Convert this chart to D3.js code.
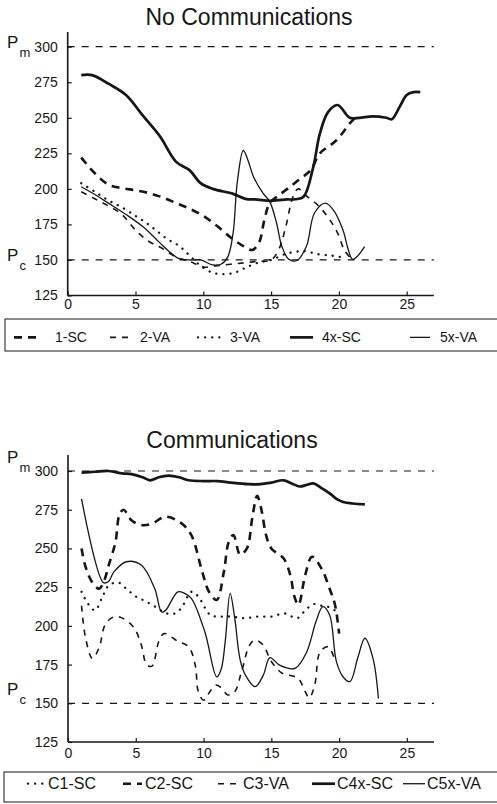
<!DOCTYPE html>
<html>
<head>
<meta charset="utf-8">
<script src="https://cdn.jsdelivr.net/npm/d3@7"></script>
<style>
  html, body { margin: 0; padding: 0; background: #fff; }
  svg { display: block; font-family: "Liberation Sans", Arial, Helvetica, sans-serif; }
</style>
</head>
<body>
<script>
'use strict';

// ---- data ----
const xTicks = [0, 5, 10, 15, 20, 25];
const yTicks = [125, 150, 175, 200, 225, 250, 275, 300];
const refLevels = [300, 150];

// No Communications
const noCommLabels = ['1-SC', '2-VA', '3-VA', '4x-SC', '5x-VA'];
const sc1 = [[1,222],[2,211],[3,203],[4,200.5],[5,199],[6,197],[7,194],[8,190],[9,186],[10,181],[11,174],[12,166],[13,159.5],[13.6,157],[14.1,162],[14.5,178],[14.9,190],[15.5,195],[16.2,200],[17,206],[17.9,213],[18.6,225],[19.8,234],[20.8,246],[21.2,250]];
const va2 = [[1,198],[2,193],[3,188],[4,182],[5,171],[6,163],[7,158],[8,152],[9,149],[10,145],[11,146],[12,147],[13,148],[14,149],[15,150],[15.6,158],[16.1,174],[16.6,194],[17,200],[17.6,195],[18.4,189],[19.2,180],[19.9,169],[20.4,157],[20.9,151]];
const va3 = [[1,204],[2,198],[3,192],[4,187],[5,181],[5.8,176],[6.5,171],[7.3,165],[8.2,160],[9,153],[9.8,146],[10.7,141],[11.5,140],[12.3,141],[13,144],[14,148],[15,150],[16,154],[17,156],[17.6,156],[18.5,154],[19.5,153],[20.2,152]];
const sc4 = [[1,280],[1.8,280],[3,274],[4.3,266],[5.5,252],[6.8,237],[8,219],[9,213],[9.8,204],[10.7,200],[12.2,196.5],[13.1,193],[14,192.5],[14.9,191.5],[16,192.5],[16.8,192.7],[17.4,194.5],[18.1,215],[18.6,239],[19.2,254],[19.9,259],[20.8,250],[21.5,250],[22.5,251],[23.5,250],[23.9,249],[24.5,258],[25,266],[25.5,268],[26,268]];
const va5 = [[1,201.5],[2,196],[3,190],[4.3,182],[5.6,173],[6.8,162],[7.6,155],[8.2,151],[9,150],[9.8,150],[10.7,146.5],[11.3,147],[11.8,152],[12.2,169],[12.5,204],[12.95,227],[13.3,220],[13.7,208.6],[14.4,197],[14.9,191],[15.4,176],[15.8,159.4],[16.3,150.5],[16.9,149.6],[17.6,159.4],[18.2,183],[19,190],[19.6,185],[20.3,171],[20.7,157],[21,150.5],[21.3,152],[21.9,159.4]];

// Communications
const commLabels = ['C1-SC', 'C2-SC', 'C3-VA', 'C4x-SC', 'C5x-VA'];
const c1sc = [[1,222],[1.5,214],[2,210],[2.5,218],[3,226],[3.7,228],[4.3,224],[5,219],[5.7,216],[6.5,212],[7.3,208],[7.9,208],[8.4,212],[9.1,222],[9.6,219],[10.5,207],[11.2,206],[12,206],[13,205],[14,206],[15,206],[16,208],[16.9,205],[17.5,210],[18.1,214],[18.7,213],[19.3,212],[20,208]];
const c2sc = [[1,250],[1.3,238],[1.8,228],[2.3,224],[2.7,230],[3,239],[3.5,254],[3.8,272],[4.1,275],[4.7,268],[5.5,265],[6.2,266],[7.2,270.5],[8.4,266],[9.1,258.6],[9.9,235],[10.4,222],[10.97,216.7],[11.5,235],[11.85,254],[12.2,258.6],[12.7,246],[13.2,250],[13.6,270],[13.95,284],[14.3,273.7],[14.6,259],[15,250],[15.9,243.6],[16.4,232.8],[16.7,219],[17,213.5],[17.5,232.8],[18,244.6],[18.7,237],[19.3,224],[19.7,213.5],[20,195]];
const c3va = [[1,213],[1.3,192],[1.8,179],[2.3,186],[2.7,200],[3.2,205],[3.7,206],[4.3,203.5],[4.9,198.4],[5.4,188],[5.8,175],[6.2,174],[6.7,190],[7.1,195],[8.1,190],[8.9,186.5],[9.4,174],[9.6,158],[10,152],[10.5,158],[10.9,161.8],[11.3,160],[11.8,155.4],[12.3,157.5],[12.8,170.4],[13.4,187.6],[13.8,190.8],[14.4,187.6],[15,177],[15.8,169.4],[16.4,168],[17,166],[17.5,157.5],[17.8,153.5],[18.2,161.8],[18.6,183.3],[19.2,186.5],[19.6,180]];
const c4sc = [[1,299],[2,299.5],[3,300],[4,298.5],[4.7,298],[5.5,296],[6.05,294],[6.7,296],[7.4,297],[8.2,296],[8.9,294],[10,293.5],[11,293.5],[12,292.5],[13.3,291.5],[14.2,291.5],[15,292.5],[15.9,294],[16.5,292],[17.1,290],[17.6,291],[18.1,292],[18.7,289],[19.3,285.6],[19.8,282],[20.3,280],[21,279],[21.9,278.5]];
const c5va = [[1,282],[2.6,228],[2.97,228.5],[3.4,235],[4.3,241.4],[5.4,239.3],[6.4,224],[6.9,209],[7.2,210],[8.1,222],[8.6,221],[9.1,217.8],[10.1,196],[10.97,167],[11.3,172],[11.6,190],[11.96,221],[12.3,205],[12.7,178],[13.1,168],[13.8,160.7],[14.4,168],[14.9,179.5],[15.6,174.7],[16.75,172.6],[17.6,183],[18.3,203],[18.8,212.4],[19.3,207],[19.8,176.9],[20.3,167],[20.8,164],[21.4,180],[21.9,192],[22.5,179],[22.9,153]];

// ---- styles ----
const ink = '#161616';
const styles = {
  thickDash:  {w: 2.6, dash: '8,6'},
  thinDash:   {w: 1.6, dash: '6,6'},
  dot:        {w: 2.3, dash: '0.1,7', cap: 'round'},
  thickSolid: {w: 2.7, dash: null},
  thinSolid:  {w: 1.3, dash: null}
};
const kinds = ['thickDash', 'thinDash', 'dot', 'thickSolid', 'thinSolid'];
const kindsComm = ['dot', 'thickDash', 'thinDash', 'thickSolid', 'thinSolid'];

const width = 497, height = 804;
const svg = d3.select('body').append('svg')
  .attr('width', width).attr('height', height);

function applyStyle(sel, kind) {
  const s = styles[kind];
  sel.attr('fill', 'none').attr('stroke', ink)
    .attr('stroke-width', s.w)
    .attr('stroke-linejoin', 'round')
    .attr('stroke-linecap', s.cap || 'butt');
  if (s.dash) sel.attr('stroke-dasharray', s.dash);
  return sel;
}

function panel(p) {
  const x = d3.scaleLinear().domain([0, 27]).range([p.left, p.right]);
  const y = d3.scaleLinear().domain([125, 300]).range([p.y125, p.y300]);
  const g = svg.append('g');

  g.append('text')
    .attr('x', p.titleX).attr('y', p.titleY)
    .attr('text-anchor', 'middle')
    .attr('font-size', 23).attr('fill', ink)
    .text(p.title);

  // reference levels
  g.selectAll('line.ref').data(refLevels).join('line')
    .attr('x1', x(0)).attr('x2', x(27))
    .attr('y1', d => y(d)).attr('y2', d => y(d))
    .attr('stroke', ink).attr('stroke-width', 1.2)
    .attr('stroke-dasharray', '7,7');

  // axes
  const ax = g.append('g').attr('transform', `translate(0,${p.y125})`)
    .call(d3.axisBottom(x).tickValues(xTicks).tickSize(-4).tickPadding(p.xPad).tickSizeOuter(0));
  const ay = g.append('g').attr('transform', `translate(${p.left},0)`)
    .call(d3.axisLeft(y).tickValues(yTicks).tickSize(-4).tickPadding(10).tickSizeOuter(0));
  [ax, ay].forEach(a => {
    a.select('.domain').remove();
    a.selectAll('line').attr('stroke', ink).attr('stroke-width', 1.2);
    a.selectAll('text').attr('font-size', 14).attr('fill', ink)
      .attr('font-family', '"Liberation Sans", Arial, sans-serif');
  });
  g.append('line')
    .attr('x1', p.left).attr('x2', p.left)
    .attr('y1', p.yTop).attr('y2', p.y125)
    .attr('stroke', ink).attr('stroke-width', 1.6);
  g.append('line')
    .attr('x1', p.left).attr('x2', x(27))
    .attr('y1', p.y125).attr('y2', p.y125)
    .attr('stroke', ink).attr('stroke-width', 1.6);

  // P_m and P_c
  [[300, 'm'], [150, 'c']].forEach(([lv, sub]) => {
    g.append('text').attr('x', 7).attr('y', y(lv) + p.pShift)
      .attr('font-size', 17).attr('fill', ink).text('P');
    g.append('text').attr('x', 19.5).attr('y', y(lv) + p.pShift + 9)
      .attr('font-size', 13).attr('fill', ink).text(sub);
  });

  // series
  const line = d3.line()
    .x(d => x(d[0])).y(d => y(d[1]))
    .curve(d3.curveCatmullRom.alpha(0.5));
  p.series.forEach((s, i) => {
    applyStyle(g.append('path').datum(s).attr('d', line), p.kinds[i]);
  });

  // legend
  g.append('rect')
    .attr('x', p.legBox[0]).attr('y', p.legBox[1])
    .attr('width', 600).attr('height', p.legBox[2])
    .attr('fill', 'none').attr('stroke', ink).attr('stroke-width', 1);
  p.labels.forEach((lab, i) => {
    const it = p.legItems[i];
    const ly = p.legBase - p.legFont * 0.33;
    applyStyle(g.append('line')
      .attr('x1', it[0]).attr('x2', it[1]).attr('y1', ly).attr('y2', ly), p.kinds[i]);
    g.append('text').attr('x', it[2]).attr('y', p.legBase)
      .attr('font-size', p.legFont).attr('fill', ink).text(lab);
  });
}

panel({
  title: 'No Communications', titleX: 249, titleY: 25,
  left: 67.7, right: 433.8, y300: 46.7, y125: 295.5, yTop: 32, xPad: 4,
  pShift: 1,
  series: [sc1, va2, va3, sc4, va5], kinds: kinds, labels: noCommLabels,
  legBox: [5, 319, 32], legBase: 342, legFont: 14,
  legItems: [[14, 38, 55], [110, 133, 140], [198, 222, 230], [290, 313, 322], [410, 430, 440]]
});

panel({
  title: 'Communications', titleX: 232, titleY: 448,
  left: 68, right: 434, y300: 471, y125: 742, yTop: 455, xPad: 6,
  pShift: -8,
  series: [c1sc, c2sc, c3va, c4sc, c5va], kinds: kindsComm, labels: commLabels,
  legBox: [4, 772, 30], legBase: 789, legFont: 16,
  legItems: [[28, 45, 48], [123, 142, 145], [218, 240, 243], [312, 335, 337], [403, 425, 427]]
});
</script>
</body>
</html>
